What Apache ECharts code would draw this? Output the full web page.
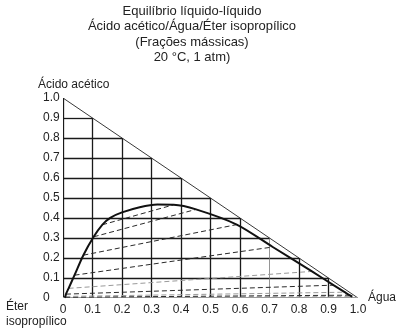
<!DOCTYPE html>
<html>
<head>
<meta charset="utf-8">
<script src="https://cdn.jsdelivr.net/npm/echarts@6/dist/echarts.min.js"></script>
<style>
  html, body { margin: 0; padding: 0; background: #fff; }
  #chart { width: 399px; height: 332px; }
</style>
</head>
<body>
<div id="chart"></div>
<script>
// Liquid-liquid equilibrium, acetic acid / water / isopropyl ether, 20 °C (mass fractions)
// Right-triangle ternary diagram: x = water, y = acetic acid, ether = 1 - x - y.

const titleLines = [
  'Equilíbrio líquido-líquido',
  'Ácido acético/Água/Éter isopropílico',
  '(Frações mássicas)',
  '20 °C, 1 atm)'
];

const xTickLabels = ['0', '0.1', '0.2', '0.3', '0.4', '0.5', '0.6', '0.7', '0.8', '0.9', '1.0'];
const yTickLabels = ['0', '0.1', '0.2', '0.3', '0.4', '0.5', '0.6', '0.7', '0.8', '0.9', '1.0'];
const gridSteps = [0.1, 0.2, 0.3, 0.4, 0.5, 0.6, 0.7, 0.8, 0.9];

// Ether-rich phase (extract): water and acid fractions
const extractWater = [0.005, 0.007, 0.008, 0.010, 0.019, 0.039, 0.069, 0.104, 0.133];
const extractAcid  = [0.0018, 0.0037, 0.0079, 0.0193, 0.0482, 0.114, 0.214, 0.306, 0.366];
// Water-rich phase (raffinate): water and acid fractions
const raffWater = [0.981, 0.971, 0.955, 0.917, 0.844, 0.711, 0.589, 0.451, 0.375];
const raffAcid  = [0.0069, 0.0141, 0.0289, 0.0642, 0.133, 0.255, 0.367, 0.443, 0.466];
// Points on the binodal between the two branches
const topWater = [0.16, 0.2, 0.26, 0.32];
const topAcid  = [0.401, 0.428, 0.454, 0.467];

// Binodal curve: extract branch, top region, raffinate branch
const binodal = [];
extractWater.forEach((w, i) => binodal.push([w, extractAcid[i]]));
topWater.forEach((w, i) => binodal.push([w, topAcid[i]]));
for (let i = raffWater.length - 1; i >= 0; i--) binodal.push([raffWater[i], raffAcid[i]]);

// Triangle grid: horizontal and vertical lines end on the hypotenuse
const BLACK = '#1a1a1a';
const solid = { color: BLACK, width: 1.3, opacity: 1 };
const gridLines = [];
gridSteps.forEach(v => {
  gridLines.push({ coords: [[0, v], [1 - v, v]], lineStyle: solid });
  const thin = Math.round(v * 10) === 7;
  gridLines.push({
    coords: [[v, 0], [v, 1 - v]],
    lineStyle: thin ? { color: '#7a7a7a', width: 0.8, opacity: 1 } : solid
  });
});
const frame = [
  { coords: [[0, 0], [0, 1]], lineStyle: solid },
  { coords: [[0, 1], [1, 0]], lineStyle: { color: '#222', width: 0.9, opacity: 1 } },
  { coords: [[0, 0], [1, 0]], lineStyle: { color: '#9a9a9a', width: 2, opacity: 1 } }
];

// Tie lines joining conjugate phases
const tieLines = extractWater.map((w, i) => ({
  coords: [[w, extractAcid[i]], [raffWater[i], raffAcid[i]]],
  lineStyle: {
    color: (i % 2 === 0 && i < 5) ? '#9a9a9a' : '#2a2a2a',
    width: 1,
    opacity: 1,
    type: [5, 3]
  }
}));

const chart = echarts.init(document.getElementById('chart'), null, { renderer: 'canvas' });
const FONT = 'Liberation Sans, Arial, sans-serif';

chart.setOption({
  animation: false,
  backgroundColor: '#fff',
  grid: { left: 63, top: 98, width: 295, height: 200 },
  xAxis: {
    type: 'value', min: 0, max: 1, interval: 0.1,
    name: 'Água', nameLocation: 'end', nameGap: 10,
    nameTextStyle: { color: '#222', fontSize: 12, fontFamily: FONT, verticalAlign: 'middle' },
    axisLine: { show: false }, axisTick: { show: false }, splitLine: { show: false },
    axisLabel: {
      margin: 6, color: '#222', fontSize: 12, fontFamily: FONT,
      formatter: v => xTickLabels[Math.round(v * 10)]
    }
  },
  yAxis: {
    type: 'value', min: 0, max: 1, interval: 0.1,
    axisLine: { show: false }, axisTick: { show: false }, splitLine: { show: false },
    axisLabel: {
      margin: 20, align: 'left', color: '#222', fontSize: 12, fontFamily: FONT,
      formatter: v => yTickLabels[Math.round(v * 10)]
    }
  },
  graphic: [
    ...titleLines.map((t, i) => ({
      type: 'text', x: 192, y: [11, 26, 42, 57][i],
      style: { text: t, fill: '#222', font: '13px ' + FONT, textAlign: 'center', textVerticalAlign: 'middle' }
    })),
    { type: 'text', x: 38, y: 85,
      style: { text: 'Ácido acético', fill: '#222', font: '12px ' + FONT, textAlign: 'left', textVerticalAlign: 'middle' } },
    { type: 'text', x: 6, y: 307,
      style: { text: 'Éter', fill: '#222', font: '12px ' + FONT, textAlign: 'left', textVerticalAlign: 'middle' } },
    { type: 'text', x: 6, y: 322,
      style: { text: 'isopropílico', fill: '#222', font: '12px ' + FONT, textAlign: 'left', textVerticalAlign: 'middle' } }
  ],
  series: [
    { type: 'lines', coordinateSystem: 'cartesian2d', silent: true, z: 2, data: gridLines },
    { type: 'lines', coordinateSystem: 'cartesian2d', silent: true, z: 2, data: frame },
    { type: 'lines', coordinateSystem: 'cartesian2d', silent: true, z: 3, data: tieLines },
    {
      type: 'line', data: binodal, smooth: 0.3, showSymbol: false, silent: true, z: 4,
      lineStyle: { color: '#111', width: 2 }
    }
  ]
});
</script>
</body>
</html>
